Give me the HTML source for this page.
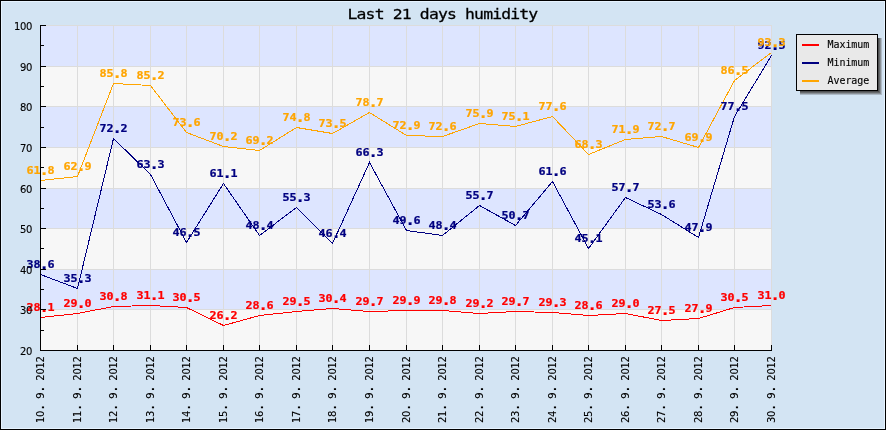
<!DOCTYPE html>
<html><head><meta charset="utf-8"><title>Last 21 days humidity</title>
<style>
html,body{margin:0;padding:0;background:#D3E4F3;}
svg{display:block}
.m{font-family:"DejaVu Sans Mono","Liberation Mono",monospace;font-size:10px;fill:#000;stroke:#000;stroke-width:0.12px}
.d{font-family:"DejaVu Sans","Liberation Sans",sans-serif;font-size:10px;fill:#000;stroke:#000;stroke-width:0.12px}
.t{font-family:"DejaVu Sans Mono","Liberation Mono",monospace;font-size:13.2px;fill:#000;stroke:#000;stroke-width:0.25px;letter-spacing:-0.677px}
.v{font-family:"DejaVu Sans Mono","Liberation Mono",monospace;font-size:11px;font-weight:bold;text-anchor:middle;stroke-width:0.25px}
</style></head><body>
<svg width="886" height="430" viewBox="0 0 886 430">
<rect x="0" y="0" width="886" height="430" fill="#000"/>
<rect x="1" y="1" width="884" height="428" fill="#E6F3FF"/>
<rect x="2" y="2" width="882" height="426" fill="#D3E4F3"/>
<g shape-rendering="crispEdges">
<rect x="40" y="25" width="732" height="41" fill="#DDE5FF"/>
<rect x="40" y="66" width="732" height="40" fill="#F7F7F7"/>
<rect x="40" y="106" width="732" height="41" fill="#DDE5FF"/>
<rect x="40" y="147" width="732" height="41" fill="#F7F7F7"/>
<rect x="40" y="188" width="732" height="40" fill="#DDE5FF"/>
<rect x="40" y="228" width="732" height="41" fill="#F7F7F7"/>
<rect x="40" y="269" width="732" height="40" fill="#DDE5FF"/>
<rect x="40" y="309" width="732" height="41" fill="#F7F7F7"/>
<rect x="40" y="25" width="732" height="1" fill="#DCDCDC"/>
<rect x="40" y="66" width="732" height="1" fill="#DCDCDC"/>
<rect x="40" y="106" width="732" height="1" fill="#DCDCDC"/>
<rect x="40" y="147" width="732" height="1" fill="#DCDCDC"/>
<rect x="40" y="188" width="732" height="1" fill="#DCDCDC"/>
<rect x="40" y="228" width="732" height="1" fill="#DCDCDC"/>
<rect x="40" y="269" width="732" height="1" fill="#DCDCDC"/>
<rect x="40" y="309" width="732" height="1" fill="#DCDCDC"/>
<rect x="40" y="350" width="732" height="1" fill="#DCDCDC"/>
<rect x="40" y="25" width="1" height="325" fill="#DCDCDC"/>
<rect x="77" y="25" width="1" height="325" fill="#DCDCDC"/>
<rect x="113" y="25" width="1" height="325" fill="#DCDCDC"/>
<rect x="150" y="25" width="1" height="325" fill="#DCDCDC"/>
<rect x="186" y="25" width="1" height="325" fill="#DCDCDC"/>
<rect x="223" y="25" width="1" height="325" fill="#DCDCDC"/>
<rect x="259" y="25" width="1" height="325" fill="#DCDCDC"/>
<rect x="296" y="25" width="1" height="325" fill="#DCDCDC"/>
<rect x="332" y="25" width="1" height="325" fill="#DCDCDC"/>
<rect x="369" y="25" width="1" height="325" fill="#DCDCDC"/>
<rect x="406" y="25" width="1" height="325" fill="#DCDCDC"/>
<rect x="442" y="25" width="1" height="325" fill="#DCDCDC"/>
<rect x="479" y="25" width="1" height="325" fill="#DCDCDC"/>
<rect x="515" y="25" width="1" height="325" fill="#DCDCDC"/>
<rect x="552" y="25" width="1" height="325" fill="#DCDCDC"/>
<rect x="588" y="25" width="1" height="325" fill="#DCDCDC"/>
<rect x="625" y="25" width="1" height="325" fill="#DCDCDC"/>
<rect x="661" y="25" width="1" height="325" fill="#DCDCDC"/>
<rect x="698" y="25" width="1" height="325" fill="#DCDCDC"/>
<rect x="734" y="25" width="1" height="325" fill="#DCDCDC"/>
<rect x="771" y="25" width="1" height="325" fill="#DCDCDC"/>
</g>
<text class="d" transform="translate(44,423) rotate(-90)" x="0.00 6.05 13.80 18.15 24.20 31.95 36.30 42.35 48.40 54.45 60.50" y="0">10<tspan font-weight="bold">.</tspan> 9<tspan font-weight="bold">.</tspan> 2012</text>
<text class="d" transform="translate(81,423) rotate(-90)" x="0.00 6.05 13.80 18.15 24.20 31.95 36.30 42.35 48.40 54.45 60.50" y="0">11<tspan font-weight="bold">.</tspan> 9<tspan font-weight="bold">.</tspan> 2012</text>
<text class="d" transform="translate(117,423) rotate(-90)" x="0.00 6.05 13.80 18.15 24.20 31.95 36.30 42.35 48.40 54.45 60.50" y="0">12<tspan font-weight="bold">.</tspan> 9<tspan font-weight="bold">.</tspan> 2012</text>
<text class="d" transform="translate(154,423) rotate(-90)" x="0.00 6.05 13.80 18.15 24.20 31.95 36.30 42.35 48.40 54.45 60.50" y="0">13<tspan font-weight="bold">.</tspan> 9<tspan font-weight="bold">.</tspan> 2012</text>
<text class="d" transform="translate(190,423) rotate(-90)" x="0.00 6.05 13.80 18.15 24.20 31.95 36.30 42.35 48.40 54.45 60.50" y="0">14<tspan font-weight="bold">.</tspan> 9<tspan font-weight="bold">.</tspan> 2012</text>
<text class="d" transform="translate(227,423) rotate(-90)" x="0.00 6.05 13.80 18.15 24.20 31.95 36.30 42.35 48.40 54.45 60.50" y="0">15<tspan font-weight="bold">.</tspan> 9<tspan font-weight="bold">.</tspan> 2012</text>
<text class="d" transform="translate(263,423) rotate(-90)" x="0.00 6.05 13.80 18.15 24.20 31.95 36.30 42.35 48.40 54.45 60.50" y="0">16<tspan font-weight="bold">.</tspan> 9<tspan font-weight="bold">.</tspan> 2012</text>
<text class="d" transform="translate(300,423) rotate(-90)" x="0.00 6.05 13.80 18.15 24.20 31.95 36.30 42.35 48.40 54.45 60.50" y="0">17<tspan font-weight="bold">.</tspan> 9<tspan font-weight="bold">.</tspan> 2012</text>
<text class="d" transform="translate(336,423) rotate(-90)" x="0.00 6.05 13.80 18.15 24.20 31.95 36.30 42.35 48.40 54.45 60.50" y="0">18<tspan font-weight="bold">.</tspan> 9<tspan font-weight="bold">.</tspan> 2012</text>
<text class="d" transform="translate(373,423) rotate(-90)" x="0.00 6.05 13.80 18.15 24.20 31.95 36.30 42.35 48.40 54.45 60.50" y="0">19<tspan font-weight="bold">.</tspan> 9<tspan font-weight="bold">.</tspan> 2012</text>
<text class="d" transform="translate(410,423) rotate(-90)" x="0.00 6.05 13.80 18.15 24.20 31.95 36.30 42.35 48.40 54.45 60.50" y="0">20<tspan font-weight="bold">.</tspan> 9<tspan font-weight="bold">.</tspan> 2012</text>
<text class="d" transform="translate(446,423) rotate(-90)" x="0.00 6.05 13.80 18.15 24.20 31.95 36.30 42.35 48.40 54.45 60.50" y="0">21<tspan font-weight="bold">.</tspan> 9<tspan font-weight="bold">.</tspan> 2012</text>
<text class="d" transform="translate(483,423) rotate(-90)" x="0.00 6.05 13.80 18.15 24.20 31.95 36.30 42.35 48.40 54.45 60.50" y="0">22<tspan font-weight="bold">.</tspan> 9<tspan font-weight="bold">.</tspan> 2012</text>
<text class="d" transform="translate(519,423) rotate(-90)" x="0.00 6.05 13.80 18.15 24.20 31.95 36.30 42.35 48.40 54.45 60.50" y="0">23<tspan font-weight="bold">.</tspan> 9<tspan font-weight="bold">.</tspan> 2012</text>
<text class="d" transform="translate(556,423) rotate(-90)" x="0.00 6.05 13.80 18.15 24.20 31.95 36.30 42.35 48.40 54.45 60.50" y="0">24<tspan font-weight="bold">.</tspan> 9<tspan font-weight="bold">.</tspan> 2012</text>
<text class="d" transform="translate(592,423) rotate(-90)" x="0.00 6.05 13.80 18.15 24.20 31.95 36.30 42.35 48.40 54.45 60.50" y="0">25<tspan font-weight="bold">.</tspan> 9<tspan font-weight="bold">.</tspan> 2012</text>
<text class="d" transform="translate(629,423) rotate(-90)" x="0.00 6.05 13.80 18.15 24.20 31.95 36.30 42.35 48.40 54.45 60.50" y="0">26<tspan font-weight="bold">.</tspan> 9<tspan font-weight="bold">.</tspan> 2012</text>
<text class="d" transform="translate(665,423) rotate(-90)" x="0.00 6.05 13.80 18.15 24.20 31.95 36.30 42.35 48.40 54.45 60.50" y="0">27<tspan font-weight="bold">.</tspan> 9<tspan font-weight="bold">.</tspan> 2012</text>
<text class="d" transform="translate(702,423) rotate(-90)" x="0.00 6.05 13.80 18.15 24.20 31.95 36.30 42.35 48.40 54.45 60.50" y="0">28<tspan font-weight="bold">.</tspan> 9<tspan font-weight="bold">.</tspan> 2012</text>
<text class="d" transform="translate(738,423) rotate(-90)" x="0.00 6.05 13.80 18.15 24.20 31.95 36.30 42.35 48.40 54.45 60.50" y="0">29<tspan font-weight="bold">.</tspan> 9<tspan font-weight="bold">.</tspan> 2012</text>
<text class="d" transform="translate(775,423) rotate(-90)" x="0.00 6.05 13.80 18.15 24.20 31.95 36.30 42.35 48.40 54.45 60.50" y="0">30<tspan font-weight="bold">.</tspan> 9<tspan font-weight="bold">.</tspan> 2012</text>
<text class="t" transform="translate(347.5,18.7) scale(1.245,1)" x="0" y="0">Last 21 days humidity</text>
<polyline points="40.5,317.5 77.5,313.5 113.5,306.5 150.5,305.5 186.5,307.5 223.5,325.5 259.5,315.5 296.5,311.5 332.5,308.5 369.5,311.5 406.5,310.5 442.5,310.5 479.5,313.5 515.5,311.5 552.5,312.5 588.5,315.5 625.5,313.5 661.5,320.5 698.5,318.5 734.5,307.5 771.5,305.5" fill="none" stroke="#FF0000" stroke-width="1" shape-rendering="crispEdges"/>
<polyline points="40.5,274.5 77.5,288.5 113.5,138.5 150.5,174.5 186.5,242.5 223.5,183.5 259.5,235.5 296.5,207.5 332.5,243.5 369.5,162.5 406.5,230.5 442.5,235.5 479.5,205.5 515.5,225.5 552.5,181.5 588.5,248.5 625.5,197.5 661.5,214.5 698.5,237.5 734.5,116.5 771.5,55.5" fill="none" stroke="#000080" stroke-width="1" shape-rendering="crispEdges"/>
<polyline points="40.5,180.5 77.5,176.5 113.5,83.5 150.5,85.5 186.5,132.5 223.5,146.5 259.5,150.5 296.5,127.5 332.5,133.5 369.5,112.5 406.5,135.5 442.5,136.5 479.5,123.5 515.5,126.5 552.5,116.5 588.5,154.5 625.5,139.5 661.5,136.5 698.5,147.5 734.5,80.5 771.5,52.5" fill="none" stroke="#FFA500" stroke-width="1" shape-rendering="crispEdges"/>
<g fill="#FF0000" stroke="#FF0000">
<text class="v" transform="translate(40.5,311) scale(1.065,1)">28<tspan font-size="14.5" dx="-1.05" dy="1">.</tspan><tspan dx="-1.05" dy="-1">1</tspan></text>
<text class="v" transform="translate(77.5,307) scale(1.065,1)">29<tspan font-size="14.5" dx="-1.05" dy="1">.</tspan><tspan dx="-1.05" dy="-1">0</tspan></text>
<text class="v" transform="translate(113.5,300) scale(1.065,1)">30<tspan font-size="14.5" dx="-1.05" dy="1">.</tspan><tspan dx="-1.05" dy="-1">8</tspan></text>
<text class="v" transform="translate(150.5,299) scale(1.065,1)">31<tspan font-size="14.5" dx="-1.05" dy="1">.</tspan><tspan dx="-1.05" dy="-1">1</tspan></text>
<text class="v" transform="translate(186.5,301) scale(1.065,1)">30<tspan font-size="14.5" dx="-1.05" dy="1">.</tspan><tspan dx="-1.05" dy="-1">5</tspan></text>
<text class="v" transform="translate(223.5,319) scale(1.065,1)">26<tspan font-size="14.5" dx="-1.05" dy="1">.</tspan><tspan dx="-1.05" dy="-1">2</tspan></text>
<text class="v" transform="translate(259.5,309) scale(1.065,1)">28<tspan font-size="14.5" dx="-1.05" dy="1">.</tspan><tspan dx="-1.05" dy="-1">6</tspan></text>
<text class="v" transform="translate(296.5,305) scale(1.065,1)">29<tspan font-size="14.5" dx="-1.05" dy="1">.</tspan><tspan dx="-1.05" dy="-1">5</tspan></text>
<text class="v" transform="translate(332.5,302) scale(1.065,1)">30<tspan font-size="14.5" dx="-1.05" dy="1">.</tspan><tspan dx="-1.05" dy="-1">4</tspan></text>
<text class="v" transform="translate(369.5,305) scale(1.065,1)">29<tspan font-size="14.5" dx="-1.05" dy="1">.</tspan><tspan dx="-1.05" dy="-1">7</tspan></text>
<text class="v" transform="translate(406.5,304) scale(1.065,1)">29<tspan font-size="14.5" dx="-1.05" dy="1">.</tspan><tspan dx="-1.05" dy="-1">9</tspan></text>
<text class="v" transform="translate(442.5,304) scale(1.065,1)">29<tspan font-size="14.5" dx="-1.05" dy="1">.</tspan><tspan dx="-1.05" dy="-1">8</tspan></text>
<text class="v" transform="translate(479.5,307) scale(1.065,1)">29<tspan font-size="14.5" dx="-1.05" dy="1">.</tspan><tspan dx="-1.05" dy="-1">2</tspan></text>
<text class="v" transform="translate(515.5,305) scale(1.065,1)">29<tspan font-size="14.5" dx="-1.05" dy="1">.</tspan><tspan dx="-1.05" dy="-1">7</tspan></text>
<text class="v" transform="translate(552.5,306) scale(1.065,1)">29<tspan font-size="14.5" dx="-1.05" dy="1">.</tspan><tspan dx="-1.05" dy="-1">3</tspan></text>
<text class="v" transform="translate(588.5,309) scale(1.065,1)">28<tspan font-size="14.5" dx="-1.05" dy="1">.</tspan><tspan dx="-1.05" dy="-1">6</tspan></text>
<text class="v" transform="translate(625.5,307) scale(1.065,1)">29<tspan font-size="14.5" dx="-1.05" dy="1">.</tspan><tspan dx="-1.05" dy="-1">0</tspan></text>
<text class="v" transform="translate(661.5,314) scale(1.065,1)">27<tspan font-size="14.5" dx="-1.05" dy="1">.</tspan><tspan dx="-1.05" dy="-1">5</tspan></text>
<text class="v" transform="translate(698.5,312) scale(1.065,1)">27<tspan font-size="14.5" dx="-1.05" dy="1">.</tspan><tspan dx="-1.05" dy="-1">9</tspan></text>
<text class="v" transform="translate(734.5,301) scale(1.065,1)">30<tspan font-size="14.5" dx="-1.05" dy="1">.</tspan><tspan dx="-1.05" dy="-1">5</tspan></text>
<text class="v" transform="translate(771.5,299) scale(1.065,1)">31<tspan font-size="14.5" dx="-1.05" dy="1">.</tspan><tspan dx="-1.05" dy="-1">0</tspan></text>
</g>
<g fill="#000080" stroke="#000080">
<text class="v" transform="translate(40.5,268) scale(1.065,1)">38<tspan font-size="14.5" dx="-1.05" dy="1">.</tspan><tspan dx="-1.05" dy="-1">6</tspan></text>
<text class="v" transform="translate(77.5,282) scale(1.065,1)">35<tspan font-size="14.5" dx="-1.05" dy="1">.</tspan><tspan dx="-1.05" dy="-1">3</tspan></text>
<text class="v" transform="translate(113.5,132) scale(1.065,1)">72<tspan font-size="14.5" dx="-1.05" dy="1">.</tspan><tspan dx="-1.05" dy="-1">2</tspan></text>
<text class="v" transform="translate(150.5,168) scale(1.065,1)">63<tspan font-size="14.5" dx="-1.05" dy="1">.</tspan><tspan dx="-1.05" dy="-1">3</tspan></text>
<text class="v" transform="translate(186.5,236) scale(1.065,1)">46<tspan font-size="14.5" dx="-1.05" dy="1">.</tspan><tspan dx="-1.05" dy="-1">5</tspan></text>
<text class="v" transform="translate(223.5,177) scale(1.065,1)">61<tspan font-size="14.5" dx="-1.05" dy="1">.</tspan><tspan dx="-1.05" dy="-1">1</tspan></text>
<text class="v" transform="translate(259.5,229) scale(1.065,1)">48<tspan font-size="14.5" dx="-1.05" dy="1">.</tspan><tspan dx="-1.05" dy="-1">4</tspan></text>
<text class="v" transform="translate(296.5,201) scale(1.065,1)">55<tspan font-size="14.5" dx="-1.05" dy="1">.</tspan><tspan dx="-1.05" dy="-1">3</tspan></text>
<text class="v" transform="translate(332.5,237) scale(1.065,1)">46<tspan font-size="14.5" dx="-1.05" dy="1">.</tspan><tspan dx="-1.05" dy="-1">4</tspan></text>
<text class="v" transform="translate(369.5,156) scale(1.065,1)">66<tspan font-size="14.5" dx="-1.05" dy="1">.</tspan><tspan dx="-1.05" dy="-1">3</tspan></text>
<text class="v" transform="translate(406.5,224) scale(1.065,1)">49<tspan font-size="14.5" dx="-1.05" dy="1">.</tspan><tspan dx="-1.05" dy="-1">6</tspan></text>
<text class="v" transform="translate(442.5,229) scale(1.065,1)">48<tspan font-size="14.5" dx="-1.05" dy="1">.</tspan><tspan dx="-1.05" dy="-1">4</tspan></text>
<text class="v" transform="translate(479.5,199) scale(1.065,1)">55<tspan font-size="14.5" dx="-1.05" dy="1">.</tspan><tspan dx="-1.05" dy="-1">7</tspan></text>
<text class="v" transform="translate(515.5,219) scale(1.065,1)">50<tspan font-size="14.5" dx="-1.05" dy="1">.</tspan><tspan dx="-1.05" dy="-1">7</tspan></text>
<text class="v" transform="translate(552.5,175) scale(1.065,1)">61<tspan font-size="14.5" dx="-1.05" dy="1">.</tspan><tspan dx="-1.05" dy="-1">6</tspan></text>
<text class="v" transform="translate(588.5,242) scale(1.065,1)">45<tspan font-size="14.5" dx="-1.05" dy="1">.</tspan><tspan dx="-1.05" dy="-1">1</tspan></text>
<text class="v" transform="translate(625.5,191) scale(1.065,1)">57<tspan font-size="14.5" dx="-1.05" dy="1">.</tspan><tspan dx="-1.05" dy="-1">7</tspan></text>
<text class="v" transform="translate(661.5,208) scale(1.065,1)">53<tspan font-size="14.5" dx="-1.05" dy="1">.</tspan><tspan dx="-1.05" dy="-1">6</tspan></text>
<text class="v" transform="translate(698.5,231) scale(1.065,1)">47<tspan font-size="14.5" dx="-1.05" dy="1">.</tspan><tspan dx="-1.05" dy="-1">9</tspan></text>
<text class="v" transform="translate(734.5,110) scale(1.065,1)">77<tspan font-size="14.5" dx="-1.05" dy="1">.</tspan><tspan dx="-1.05" dy="-1">5</tspan></text>
<text class="v" transform="translate(771.5,49) scale(1.065,1)">92<tspan font-size="14.5" dx="-1.05" dy="1">.</tspan><tspan dx="-1.05" dy="-1">5</tspan></text>
</g>
<g fill="#FFA500" stroke="#FFA500">
<text class="v" transform="translate(40.5,174) scale(1.065,1)">61<tspan font-size="14.5" dx="-1.05" dy="1">.</tspan><tspan dx="-1.05" dy="-1">8</tspan></text>
<text class="v" transform="translate(77.5,170) scale(1.065,1)">62<tspan font-size="14.5" dx="-1.05" dy="1">.</tspan><tspan dx="-1.05" dy="-1">9</tspan></text>
<text class="v" transform="translate(113.5,77) scale(1.065,1)">85<tspan font-size="14.5" dx="-1.05" dy="1">.</tspan><tspan dx="-1.05" dy="-1">8</tspan></text>
<text class="v" transform="translate(150.5,79) scale(1.065,1)">85<tspan font-size="14.5" dx="-1.05" dy="1">.</tspan><tspan dx="-1.05" dy="-1">2</tspan></text>
<text class="v" transform="translate(186.5,126) scale(1.065,1)">73<tspan font-size="14.5" dx="-1.05" dy="1">.</tspan><tspan dx="-1.05" dy="-1">6</tspan></text>
<text class="v" transform="translate(223.5,140) scale(1.065,1)">70<tspan font-size="14.5" dx="-1.05" dy="1">.</tspan><tspan dx="-1.05" dy="-1">2</tspan></text>
<text class="v" transform="translate(259.5,144) scale(1.065,1)">69<tspan font-size="14.5" dx="-1.05" dy="1">.</tspan><tspan dx="-1.05" dy="-1">2</tspan></text>
<text class="v" transform="translate(296.5,121) scale(1.065,1)">74<tspan font-size="14.5" dx="-1.05" dy="1">.</tspan><tspan dx="-1.05" dy="-1">8</tspan></text>
<text class="v" transform="translate(332.5,127) scale(1.065,1)">73<tspan font-size="14.5" dx="-1.05" dy="1">.</tspan><tspan dx="-1.05" dy="-1">5</tspan></text>
<text class="v" transform="translate(369.5,106) scale(1.065,1)">78<tspan font-size="14.5" dx="-1.05" dy="1">.</tspan><tspan dx="-1.05" dy="-1">7</tspan></text>
<text class="v" transform="translate(406.5,129) scale(1.065,1)">72<tspan font-size="14.5" dx="-1.05" dy="1">.</tspan><tspan dx="-1.05" dy="-1">9</tspan></text>
<text class="v" transform="translate(442.5,130) scale(1.065,1)">72<tspan font-size="14.5" dx="-1.05" dy="1">.</tspan><tspan dx="-1.05" dy="-1">6</tspan></text>
<text class="v" transform="translate(479.5,117) scale(1.065,1)">75<tspan font-size="14.5" dx="-1.05" dy="1">.</tspan><tspan dx="-1.05" dy="-1">9</tspan></text>
<text class="v" transform="translate(515.5,120) scale(1.065,1)">75<tspan font-size="14.5" dx="-1.05" dy="1">.</tspan><tspan dx="-1.05" dy="-1">1</tspan></text>
<text class="v" transform="translate(552.5,110) scale(1.065,1)">77<tspan font-size="14.5" dx="-1.05" dy="1">.</tspan><tspan dx="-1.05" dy="-1">6</tspan></text>
<text class="v" transform="translate(588.5,148) scale(1.065,1)">68<tspan font-size="14.5" dx="-1.05" dy="1">.</tspan><tspan dx="-1.05" dy="-1">3</tspan></text>
<text class="v" transform="translate(625.5,133) scale(1.065,1)">71<tspan font-size="14.5" dx="-1.05" dy="1">.</tspan><tspan dx="-1.05" dy="-1">9</tspan></text>
<text class="v" transform="translate(661.5,130) scale(1.065,1)">72<tspan font-size="14.5" dx="-1.05" dy="1">.</tspan><tspan dx="-1.05" dy="-1">7</tspan></text>
<text class="v" transform="translate(698.5,141) scale(1.065,1)">69<tspan font-size="14.5" dx="-1.05" dy="1">.</tspan><tspan dx="-1.05" dy="-1">9</tspan></text>
<text class="v" transform="translate(734.5,74) scale(1.065,1)">86<tspan font-size="14.5" dx="-1.05" dy="1">.</tspan><tspan dx="-1.05" dy="-1">5</tspan></text>
<text class="v" transform="translate(771.5,46) scale(1.065,1)">93<tspan font-size="14.5" dx="-1.05" dy="1">.</tspan><tspan dx="-1.05" dy="-1">3</tspan></text>
</g>
<g shape-rendering="crispEdges">
<rect x="40" y="25" width="1" height="326" fill="#000"/>
<rect x="40" y="350" width="732" height="1" fill="#000"/>
<rect x="41" y="25" width="5" height="1" fill="#000"/>
<rect x="41" y="45" width="3" height="1" fill="#000"/>
<rect x="41" y="66" width="5" height="1" fill="#000"/>
<rect x="41" y="86" width="3" height="1" fill="#000"/>
<rect x="41" y="106" width="5" height="1" fill="#000"/>
<rect x="41" y="127" width="3" height="1" fill="#000"/>
<rect x="41" y="147" width="5" height="1" fill="#000"/>
<rect x="41" y="167" width="3" height="1" fill="#000"/>
<rect x="41" y="188" width="5" height="1" fill="#000"/>
<rect x="41" y="208" width="3" height="1" fill="#000"/>
<rect x="41" y="228" width="5" height="1" fill="#000"/>
<rect x="41" y="248" width="3" height="1" fill="#000"/>
<rect x="41" y="269" width="5" height="1" fill="#000"/>
<rect x="41" y="289" width="3" height="1" fill="#000"/>
<rect x="41" y="309" width="5" height="1" fill="#000"/>
<rect x="41" y="330" width="3" height="1" fill="#000"/>
<rect x="41" y="350" width="5" height="1" fill="#000"/>
<rect x="40" y="345" width="1" height="5" fill="#000"/>
<rect x="77" y="345" width="1" height="5" fill="#000"/>
<rect x="113" y="345" width="1" height="5" fill="#000"/>
<rect x="150" y="345" width="1" height="5" fill="#000"/>
<rect x="186" y="345" width="1" height="5" fill="#000"/>
<rect x="223" y="345" width="1" height="5" fill="#000"/>
<rect x="259" y="345" width="1" height="5" fill="#000"/>
<rect x="296" y="345" width="1" height="5" fill="#000"/>
<rect x="332" y="345" width="1" height="5" fill="#000"/>
<rect x="369" y="345" width="1" height="5" fill="#000"/>
<rect x="406" y="345" width="1" height="5" fill="#000"/>
<rect x="442" y="345" width="1" height="5" fill="#000"/>
<rect x="479" y="345" width="1" height="5" fill="#000"/>
<rect x="515" y="345" width="1" height="5" fill="#000"/>
<rect x="552" y="345" width="1" height="5" fill="#000"/>
<rect x="588" y="345" width="1" height="5" fill="#000"/>
<rect x="625" y="345" width="1" height="5" fill="#000"/>
<rect x="661" y="345" width="1" height="5" fill="#000"/>
<rect x="698" y="345" width="1" height="5" fill="#000"/>
<rect x="734" y="345" width="1" height="5" fill="#000"/>
<rect x="771" y="345" width="1" height="5" fill="#000"/>
</g>
<text class="d" x="13.90 20.00 26.10" y="30">100</text>
<text class="d" x="20.00 26.10" y="71">90</text>
<text class="d" x="20.00 26.10" y="111">80</text>
<text class="d" x="20.00 26.10" y="152">70</text>
<text class="d" x="20.00 26.10" y="193">60</text>
<text class="d" x="20.00 26.10" y="233">50</text>
<text class="d" x="20.00 26.10" y="274">40</text>
<text class="d" x="20.00 26.10" y="314">30</text>
<text class="d" x="20.00 26.10" y="355">20</text>
<g shape-rendering="crispEdges">
<rect x="800" y="38" width="82" height="57" fill="#AEBAC6"/>
<rect x="800" y="38" width="81" height="56" fill="#8A9096"/>
<rect x="800" y="38" width="80" height="55" fill="#686B6E"/>
<rect x="800" y="38" width="79" height="54" fill="#4F5051"/>
<rect x="796" y="34" width="82" height="57" fill="#000"/>
<rect x="797" y="35" width="80" height="55" fill="#E9E9E9"/>
<rect x="802" y="44" width="17" height="2" fill="#FF0000"/>
<rect x="802" y="62" width="17" height="2" fill="#000080"/>
<rect x="802" y="80" width="17" height="2" fill="#FFA500"/>
</g>
<text class="m" x="827.6" letter-spacing="-0.08" y="48">Maximum</text>
<text class="m" x="827.6" letter-spacing="-0.08" y="66">Minimum</text>
<text class="m" x="827.6" letter-spacing="-0.08" y="84">Average</text>
</svg></body></html>
